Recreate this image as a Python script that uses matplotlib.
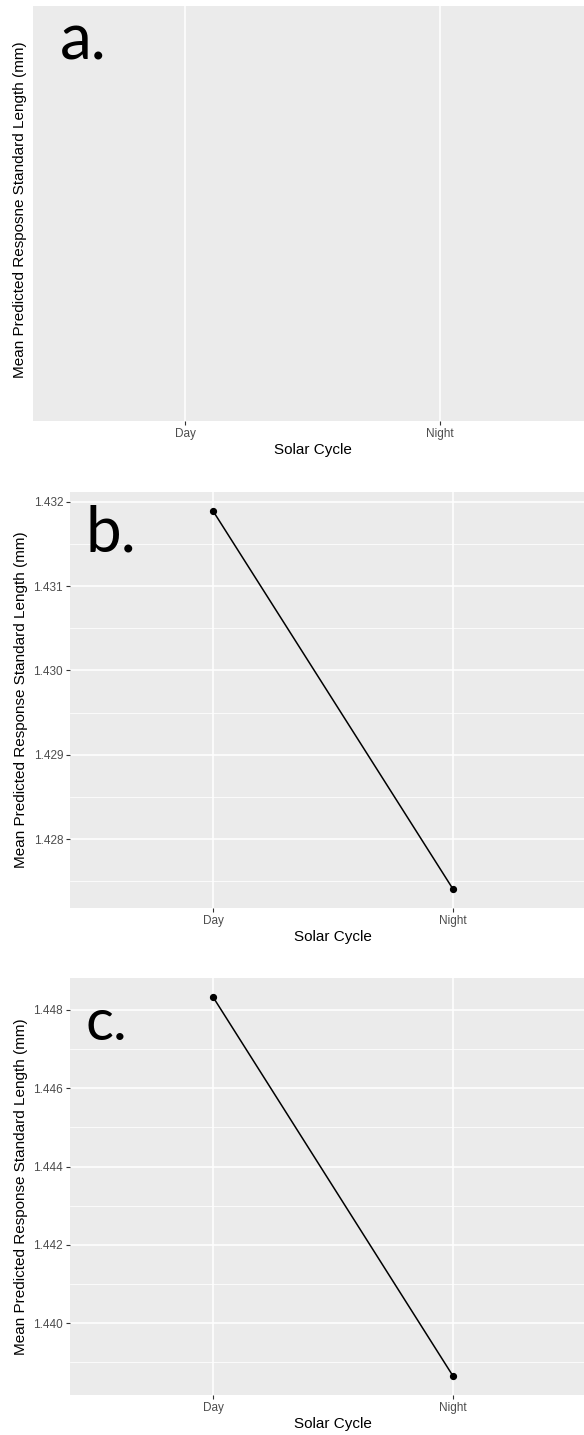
import matplotlib
matplotlib.use("Agg")
import matplotlib.pyplot as plt
from matplotlib.ticker import MultipleLocator

# data
solar_cycle = ["Day", "Night"]
sl_b = [1.43189, 1.42741]
sl_c = [1.44833, 1.43865]
ylab_a = "Mean Predicted Resposne Standard Length (mm)"
ylab_bc = "Mean Predicted Response Standard Length (mm)"

W, H = 584, 1435
plt.rcParams['font.family'] = ['Liberation Sans', 'DejaVu Sans']

fig = plt.figure(figsize=(W / 100, H / 100), dpi=100)
fig.patch.set_facecolor("white")


def px_axes(x0, y0, x1, y1):
    # pixel box (top-left origin) -> figure axes
    return fig.add_axes([x0 / W, 1 - y1 / H, (x1 - x0) / W, (y1 - y0) / H])


def style(ax, day_px, step_px, left_px):
    ax.set_facecolor("#EBEBEB")
    for s in ax.spines.values():
        s.set_visible(False)
    x = range(1, len(solar_cycle) + 1)
    ax.set_xlim(1 - (day_px - left_px) / step_px, 1 + (584 - day_px) / step_px)
    ax.set_xticks(list(x))
    ax.set_xticklabels(solar_cycle)
    ax.tick_params(axis="both", colors="#333333", length=3, width=0.8,
                   labelsize=8.5, labelcolor="#4D4D4D", pad=2)
    ax.grid(True, which="major", color="white", lw=1.1)
    ax.grid(True, which="minor", axis="y", color="white", lw=0.55)
    ax.set_axisbelow(True)
    ax.set_xlabel("Solar Cycle", fontsize=11, color="black")
    return list(x)


# panel a: empty
ax_a = px_axes(33, 6, 584, 421)
style(ax_a, 185, 255, 33)
ax_a.set_ylim(0, 1)
ax_a.set_yticks([])
ax_a.grid(False, axis="y")
ax_a.set_ylabel(ylab_a, fontsize=11)
ax_a.xaxis.set_label_coords((313 - 33) / (584 - 33), -0.053)
ax_a.yaxis.set_label_coords(-6 / (584 - 33), 0.51)

# panel b
ax_b = px_axes(70, 492, 584, 908)
x = style(ax_b, 213, 240, 70)
ax_b.plot(x, sl_b, color="black", lw=1.1, marker="o", ms=4.2)
lo, hi = min(sl_b), max(sl_b)
pad = (hi - lo) * 0.05
ax_b.set_ylim(lo - pad, hi + pad)
ax_b.yaxis.set_major_locator(MultipleLocator(0.001))
ax_b.yaxis.set_minor_locator(MultipleLocator(0.0005))
ax_b.tick_params(axis="y", which="minor", length=0)
ax_b.yaxis.set_major_formatter(plt.FormatStrFormatter("%.3f"))
ax_b.set_ylabel(ylab_bc, fontsize=11)
ax_b.xaxis.set_label_coords((333 - 70) / (584 - 70), -0.053)
ax_b.yaxis.set_label_coords(-42 / (584 - 70), 0.5)

# panel c
ax_c = px_axes(70, 978, 584, 1395)
x = style(ax_c, 213, 240, 70)
ax_c.plot(x, sl_c, color="black", lw=1.1, marker="o", ms=4.2)
lo, hi = min(sl_c), max(sl_c)
pad = (hi - lo) * 0.05
ax_c.set_ylim(lo - pad, hi + pad)
ax_c.yaxis.set_major_locator(MultipleLocator(0.002))
ax_c.yaxis.set_minor_locator(MultipleLocator(0.001))
ax_c.tick_params(axis="y", which="minor", length=0)
ax_c.yaxis.set_major_formatter(plt.FormatStrFormatter("%.3f"))
ax_c.set_ylabel(ylab_bc, fontsize=11)
ax_c.xaxis.set_label_coords((333 - 70) / (584 - 70), -0.053)
ax_c.yaxis.set_label_coords(-42 / (584 - 70), 0.5)

# panel letters
for letter, xp, yp, fs in [("a.", 60, 59, 46), ("b.", 86, 552, 46), ("c.", 86, 1040, 42)]:
    fig.text(xp / W, 1 - yp / H, letter, fontsize=fs, family=["Lato", "DejaVu Sans"],
             va="baseline", ha="left")

fig.savefig("out.png", dpi=100)
